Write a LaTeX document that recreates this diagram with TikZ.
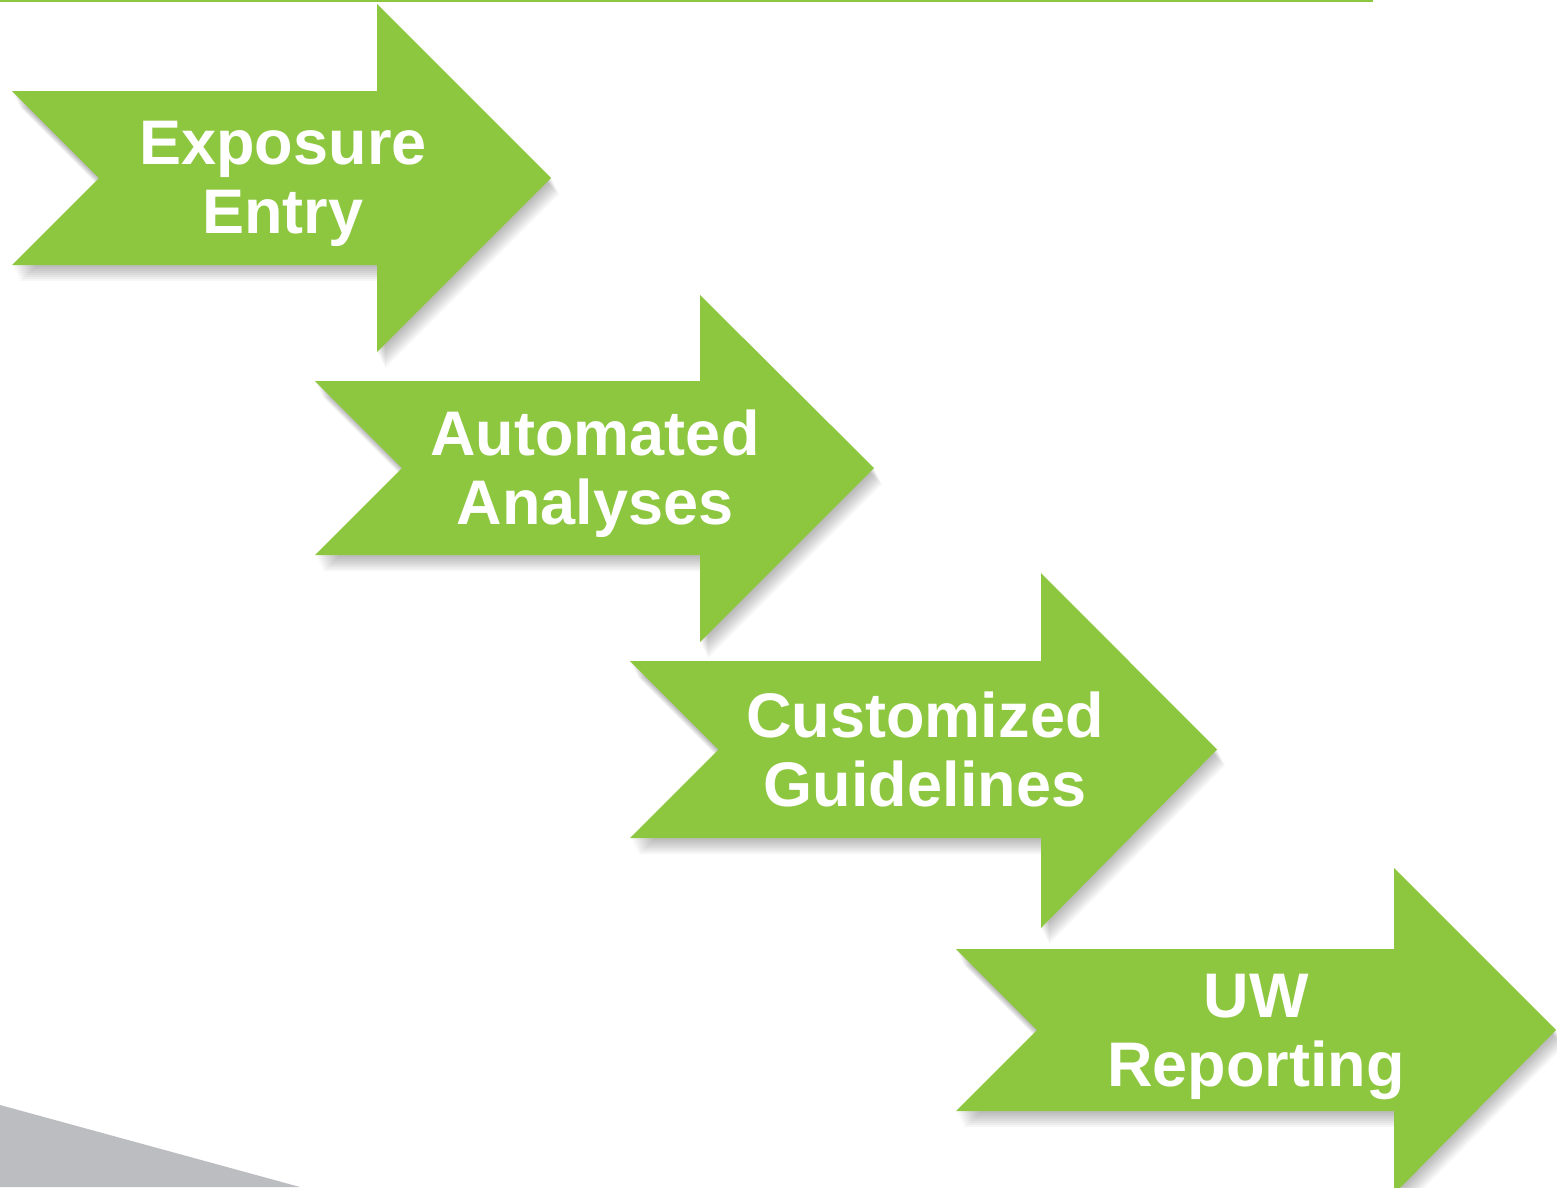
\documentclass[tikz,border=0pt]{standalone}
\usepackage{fontspec}
\setmainfont{Liberation Sans}
\definecolor{arrgreen}{HTML}{8DC63F}
\definecolor{cornergray}{HTML}{BCBDC0}
\tikzset{
  arrowfill/.style={fill=arrgreen, draw=none},
  arrowshadow/.style={fill=black, fill opacity=0.035, draw=none},
  arrowtext/.style={text=white, align=center, inner sep=0pt, anchor=base,
    font=\bfseries\fontsize{63}{69}\selectfont}
}
% #1 left x, #2 shaft top, #3 shaft bottom, #4 head base x, #5 head top, #6 head bottom, #7 tip x
\newcommand\greenarrow[7]{%
  \pgfmathsetmacro\nx{#1+(#3-#2)/2}%
  \pgfmathsetmacro\ty{(#2+#3)/2}%
  \foreach \dx/\dy in {1/2,2/4,3/6,4/8,5/10,6/12,7/14,8/16}{%
    \fill[arrowshadow, shift={(\dx,\dy)}] (#1,#2) -- (#4,#2) -- (#4,#5) -- (#7,\ty) -- (#4,#6) -- (#4,#3) -- (#1,#3) -- (\nx,\ty) -- cycle;
  }%
  \fill[arrowfill] (#1,#2) -- (#4,#2) -- (#4,#5) -- (#7,\ty) -- (#4,#6) -- (#4,#3) -- (#1,#3) -- (\nx,\ty) -- cycle;
}
\begin{document}
\begin{tikzpicture}[x=1pt,y=-1pt]
\useasboundingbox (0,0) rectangle (1557,1187);
\fill[white] (0,0) rectangle (1557,1187);
% corner gray wedge
\fill[cornergray] (0,1105) -- (300,1187) -- (0,1187) -- cycle;
% top green rule
\fill[arrgreen] (0,0) rectangle (1373,2);
% arrows
\greenarrow{12}{91}{265}{377}{4}{352}{551}
\greenarrow{315}{381}{555}{700}{295}{642}{874}
\greenarrow{630}{661}{838}{1041}{573}{928}{1217}
\greenarrow{956}{949}{1111}{1394}{868}{1194}{1556}
% labels (anchor = baseline of the last line)
\node[arrowtext] (t1) at (283,233) {Exposure\\Entry};
\node[arrowtext] (t2) at (595,524) {Automated\\Analyses};
\node[arrowtext] (t3) at (925,806) {Customized\\Guidelines};
\node[arrowtext] (t4) at (1256,1086) {UW\\Reporting};
\end{tikzpicture}
\end{document}
